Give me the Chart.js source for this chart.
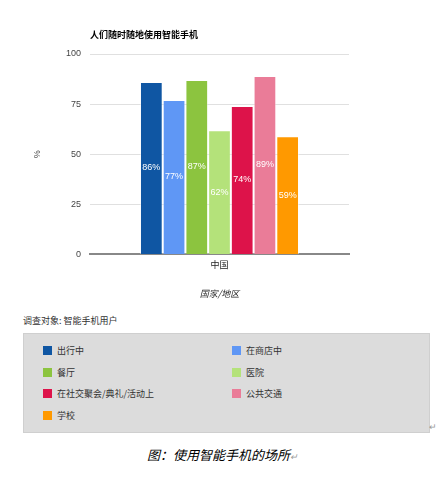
<!DOCTYPE html>
<html>
<head>
<meta charset="utf-8">
<script src="https://cdn.jsdelivr.net/npm/chart.js@4/dist/chart.umd.min.js"></script>
<style>
  body { margin: 0; background: #fff; font-family: "Liberation Sans", "Noto Sans CJK SC", sans-serif; }
  #wrap { position: relative; width: 445px; height: 482px; }
  #chart { position: absolute; left: 0; top: 0; }
  #subject { position: absolute; left: 23px; top: 314px; font-size: 9px; color: #333; font-family: "Noto Sans CJK SC", sans-serif; }
  #legend { position: absolute; left: 23px; top: 333px; width: 405px; height: 98px; background: #dcdcdc; border: 1px solid #cfcfcf; }
  .item { position: absolute; font-size: 9px; color: #333; font-family: "Noto Sans CJK SC", sans-serif; line-height: 12px; }
  .item span.sw { position: absolute; left: -14px; top: 1px; width: 9px; height: 9px; }
  #caption { position: absolute; left: 0; width: 445px; top: 445px; text-align: center; font-size: 13px; font-style: italic; color: #000; font-family: "Noto Sans CJK SC", sans-serif; }
  .mark { color: #999; font-size: 9px; }
  #mark1 { position: absolute; left: 429px; top: 422px; }
</style>
</head>
<body>
<div id="wrap">
  <canvas id="chart" width="445" height="305"></canvas>
  <div id="subject">调查对象: 智能手机用户</div>
  <div id="legend"></div>
  <div id="mark1" class="mark">↵</div>
  <div id="caption">图：使用智能手机的场所<span class="mark">↵</span></div>
</div>
<script>
// chart data
const chartTitle = '人们随时随地使用智能手机';
const categories = ['中国'];
const places = ['出行中', '在商店中', '餐厅', '医院', '在社交聚会/典礼/活动上', '公共交通', '学校'];
const percents = [86, 77, 87, 62, 74, 89, 59];
const colors = ['#0f56a3', '#5f97f5', '#8cc43f', '#b4e27a', '#dd134a', '#ea7c98', '#ff9900'];
const yTicks = [0, 25, 50, 75, 100];

// white % labels in the middle of each bar
const barLabels = {
    id: 'barLabels',
    afterDatasetsDraw(chart) {
        const ctx = chart.ctx;
        ctx.save();
        ctx.fillStyle = '#fff';
        ctx.font = '9px "Liberation Sans", sans-serif';
        ctx.textAlign = 'center';
        ctx.textBaseline = 'middle';
        chart.data.datasets.forEach((ds, i) => {
            chart.getDatasetMeta(i).data.forEach((bar, j) => {
                ctx.fillText(ds.data[j] + '%', bar.x, (bar.y + bar.base) / 2);
            });
        });
        ctx.restore();
    }
};

// title starts at the left edge of the plot
const leftTitle = {
    id: 'leftTitle',
    afterDraw(chart) {
        const ctx = chart.ctx;
        ctx.save();
        ctx.fillStyle = '#000';
        ctx.font = 'bold 9px "Noto Sans CJK SC", sans-serif';
        ctx.textAlign = 'left';
        ctx.textBaseline = 'middle';
        ctx.fillText(chartTitle, chart.chartArea.left, 35);
        ctx.restore();
    }
};

const chart = new Chart(document.getElementById('chart'), {
    type: 'bar',
    data: {
        labels: categories,
        datasets: places.map((p, i) => ({
            label: p,
            data: [percents[i]],
            backgroundColor: colors[i],
            borderColor: 'rgba(255,255,255,0.45)',
            borderWidth: 1,
            categoryPercentage: 0.614,
            barPercentage: 1.0
        }))
    },
    options: {
        responsive: false,
        animation: false,
        layout: { padding: { left: 28, right: 96, top: 54, bottom: 0 } },
        plugins: {
            legend: { display: false },
            title: { display: false },
            tooltip: { enabled: false }
        },
        scales: {
            x: {
                grid: { display: false, drawTicks: false },
                border: { color: '#888', width: 2 },
                ticks: { color: '#222', padding: 5, font: { size: 9, family: '"Noto Sans CJK SC", sans-serif' } },
                title: {
                    display: true,
                    text: '国家/地区',
                    color: '#222',
                    padding: { top: 13, bottom: 6 },
                    font: { size: 9, style: 'italic', family: '"Noto Sans CJK SC", sans-serif' }
                }
            },
            y: {
                min: 0,
                max: 100,
                afterBuildTicks: scale => { scale.ticks = yTicks.map(v => ({ value: v })); },
                afterFit: scale => { scale.width = 62; },
                grid: { color: '#e0e0e0', drawTicks: false },
                border: { display: false },
                ticks: { color: '#444', padding: 9, font: { size: 9, family: '"Liberation Sans", sans-serif' } },
                title: {
                    display: true,
                    text: '%',
                    color: '#444',
                    padding: { top: 4, bottom: 0 },
                    font: { size: 9, family: '"Liberation Sans", sans-serif' }
                }
            }
        }
    },
    plugins: [barLabels, leftTitle]
});

// legend in the grey box, two columns
const legendBox = document.getElementById('legend');
const colX = [33, 222];
const rowY = [11, 33, 54, 76];
chart.legend.legendItems.forEach((item, i) => {
    const div = document.createElement('div');
    div.className = 'item';
    div.style.left = colX[i % 2] + 'px';
    div.style.top = rowY[Math.floor(i / 2)] + 'px';
    const sw = document.createElement('span');
    sw.className = 'sw';
    sw.style.background = item.fillStyle;
    div.appendChild(sw);
    div.appendChild(document.createTextNode(item.text));
    legendBox.appendChild(div);
});
</script>
</body>
</html>
